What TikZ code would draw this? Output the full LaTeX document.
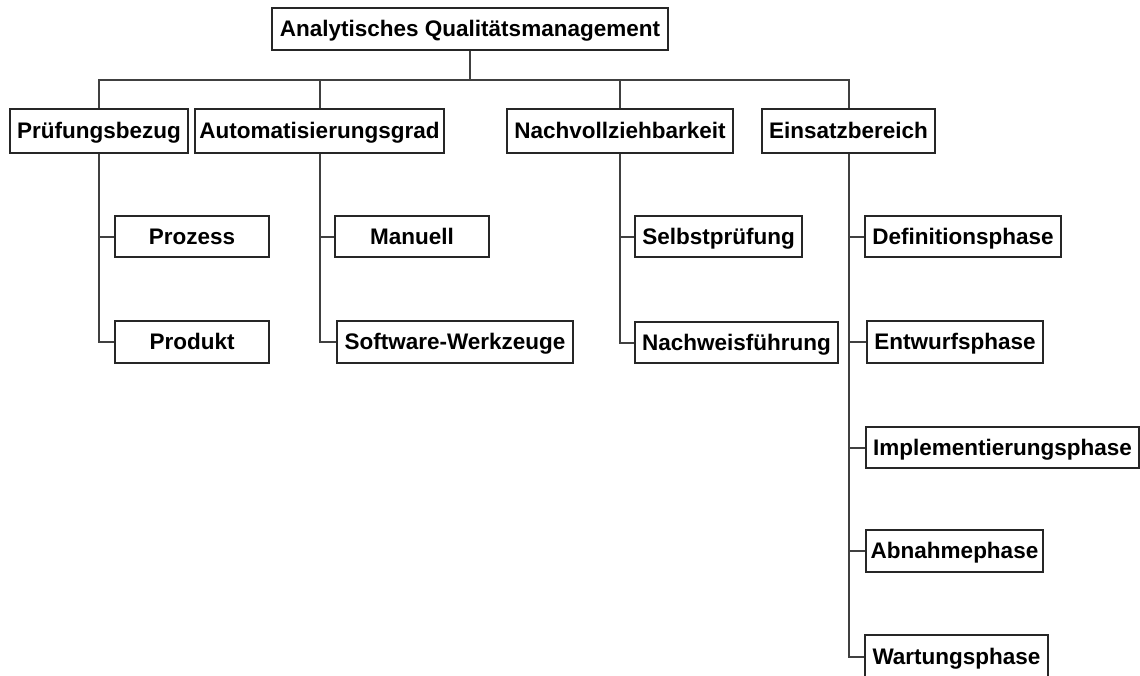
\documentclass[tikz,border=0pt]{standalone}
\usepackage{fontspec}
\setmainfont{Liberation Sans}
\usetikzlibrary{backgrounds}
\begin{document}
\begin{tikzpicture}[x=1pt,y=-1pt,
  box/.style={draw=black!85, line width=2.2pt, fill=white, inner sep=0pt,
    font=\fontsize{22.5}{27}\selectfont\bfseries,
    text height=17pt, text depth=2pt},
  link/.style={draw=black!75, line width=2pt}]
\useasboundingbox (0,0) rectangle (1140,675);

% root
\node[box, minimum width=396pt, minimum height=42pt] (root) at (470,29) {Analytisches Qualitätsmanagement};

% first level
\node[box, minimum width=178pt, minimum height=44pt] (pb) at (99,131) {Prüfungsbezug};
\node[box, minimum width=249pt, minimum height=44pt] (ag) at (319.5,131) {Automatisierungsgrad};
\node[box, minimum width=226pt, minimum height=44pt] (nv) at (620,131) {Nachvollziehbarkeit};
\node[box, minimum width=173pt, minimum height=44pt] (eb) at (848.5,131) {Einsatzbereich};

% second level
\node[box, minimum width=154pt, minimum height=41pt] (prozess) at (192,236.5) {Prozess};
\node[box, minimum width=154pt, minimum height=42pt] (produkt) at (192,342) {Produkt};
\node[box, minimum width=154pt, minimum height=41pt] (manuell) at (412,236.5) {Manuell};
\node[box, minimum width=236pt, minimum height=42pt] (software) at (455,342) {Software-Werkzeuge};
\node[box, minimum width=167pt, minimum height=41pt] (selbst) at (718.5,236.5) {Selbstprüfung};
\node[box, minimum width=203pt, minimum height=41pt] (nachweis) at (736.5,342.5) {Nachweisführung};
\node[box, minimum width=196pt, minimum height=41pt] (def) at (963,236.5) {Definitionsphase};
\node[box, minimum width=176pt, minimum height=42pt] (entw) at (955,342) {Entwurfsphase};
\node[box, minimum width=273pt, minimum height=41pt] (impl) at (1002.5,447.5) {Implementierungsphase};
\node[box, minimum width=177pt, minimum height=42pt] (abn) at (954.5,551) {Abnahmephase};
\node[box, minimum width=183pt, minimum height=43pt] (wart) at (956.5,656.5) {Wartungsphase};

\coordinate (bus) at (470,80);

% connectors sit behind the boxes
\begin{scope}[on background layer]
\fill[white] (0,0) rectangle (1140,675);
% bus line below the root
\draw[link] (root.south) -- (root.south |- bus);
\draw[link] (pb.north) |- (eb.north |- bus) -- (eb.north);
\draw[link] (ag.north) -- (ag.north |- bus);
\draw[link] (nv.north) -- (nv.north |- bus);

% branches to second level
\draw[link] (pb.south) |- (produkt.west);
\draw[link] (pb.south |- prozess.west) -- (prozess.west);
\draw[link] (ag.south) |- (software.west);
\draw[link] (ag.south |- manuell.west) -- (manuell.west);
\draw[link] (nv.south) |- (nachweis.west);
\draw[link] (nv.south |- selbst.west) -- (selbst.west);
\draw[link] (eb.south) |- (wart.west);
\draw[link] (eb.south |- def.west) -- (def.west);
\draw[link] (eb.south |- entw.west) -- (entw.west);
\draw[link] (eb.south |- impl.west) -- (impl.west);
\draw[link] (eb.south |- abn.west) -- (abn.west);
\end{scope}
\end{tikzpicture}
\end{document}
